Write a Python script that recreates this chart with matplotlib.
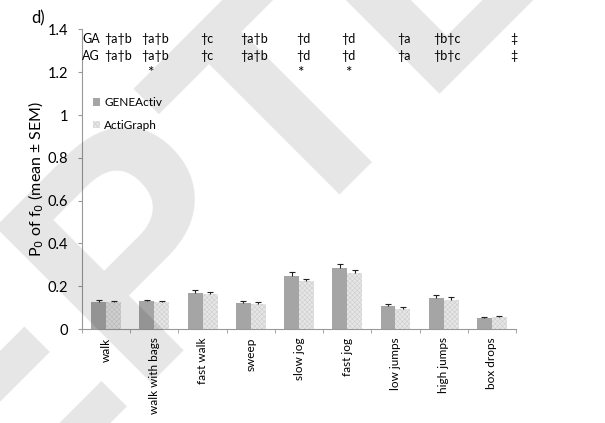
import numpy as np
import matplotlib
matplotlib.use("Agg")
import matplotlib.pyplot as plt
from matplotlib.ticker import FormatStrFormatter, FixedLocator

plt.rcParams['font.family'] = ['Lato', 'DejaVu Sans']
plt.rcParams['hatch.linewidth'] = 0.4

activities = ['walk', 'walk with bags', 'fast walk', 'sweep', 'slow jog',
              'fast jog', 'low jumps', 'high jumps', 'box drops']
ga_mean = [0.128, 0.131, 0.170, 0.120, 0.249, 0.287, 0.107, 0.143, 0.051]
ga_sem = [0.006, 0.007, 0.011, 0.009, 0.017, 0.015, 0.010, 0.016, 0.005]
ag_mean = [0.128, 0.125, 0.165, 0.117, 0.224, 0.260, 0.093, 0.137, 0.055]
ag_sem = [0.005, 0.006, 0.008, 0.008, 0.009, 0.016, 0.010, 0.014, 0.004]

# significance markers above each activity
sig_pos = [0.25, 1.01, 2.09, 3.07, 4.08, 5.02, 6.18, 7.07, 8.46]
sig_ga = ['†a†b', '†a†b', '†c', '†a†b', '†d', '†d', '†a', '†b†c', '‡']
sig_ag = ['†a†b', '†a†b', '†c', '†a†b', '†d', '†d', '†a', '†b†c', '‡']
star_pos = [0.91, 4.03, 5.02]

fig = plt.figure(figsize=(6.05, 4.23), dpi=100)
ax = fig.add_axes([0.1355, 0.222, 0.7175, 0.7085])

x = np.arange(len(activities))
w = 0.31


def sem_bars(xs, mean, sem):
    # upper half of the error bar only, with a short cap on top
    top = np.array(mean) + np.array(sem)
    ax.vlines(xs, mean, top, color='#222222', lw=0.8, zorder=3)
    ax.scatter(xs, top, marker='_', s=14, color='#222222', lw=0.8, zorder=3)


ax.bar(x - w / 2, ga_mean, w, color='#a5a5a5', linewidth=0, label='GENEActiv')
ax.bar(x + w / 2, ag_mean, w, color='#e6e6e6', edgecolor='#cdcdcd',
       hatch='xxxxxxx', linewidth=0, label='ActiGraph')
sem_bars(x - w / 2, ga_mean, ga_sem)
sem_bars(x + w / 2, ag_mean, ag_sem)

ax.set_xlim(-0.5, 8.5)
ax.set_ylim(0, 1.4)
ax.set_yticks(np.arange(0, 1.41, 0.2))
ax.yaxis.set_major_formatter(FormatStrFormatter('%g'))
ax.set_xticks(x)
ax.set_xticklabels(activities, rotation=90, fontsize=8.5)
ax.xaxis.set_minor_locator(FixedLocator(np.arange(-0.5, 9, 1)))
ax.tick_params(axis='x', which='major', length=0, pad=6)
ax.tick_params(axis='x', which='minor', length=3, color='#999999')
ax.tick_params(axis='y', length=3, color='#999999', labelsize=10.5, pad=7)

for side in ['top', 'right']:
    ax.spines[side].set_visible(False)
for side in ['left', 'bottom']:
    ax.spines[side].set_color('#999999')
    ax.spines[side].set_linewidth(0.8)

ax.set_ylabel('P$_0$ of f$_0$ (mean ± SEM)', fontsize=11.5)
ax.yaxis.set_label_coords(-0.083, 0.5)

ax.text(-0.5, 1.355, 'GA', fontsize=9, va='center', ha='left')
ax.text(-0.5, 1.275, 'AG', fontsize=9, va='center', ha='left')
for p, g, a in zip(sig_pos, sig_ga, sig_ag):
    ax.text(p, 1.355, g, fontsize=9, va='center', ha='center')
    ax.text(p, 1.275, a, fontsize=9, va='center', ha='center')
for p in star_pos:
    ax.text(p, 1.195, '*', fontsize=11, va='center', ha='center')

ax.legend(loc='upper left', bbox_to_anchor=(0.0, 0.81), frameon=False,
          fontsize=8.5, handlelength=0.6, handleheight=0.6, handletextpad=0.4,
          labelspacing=1.0)

fig.text(0.052, 0.957, 'd)', fontsize=12, va='center', ha='left')

# diagonal watermark laid over the whole panel
fig.text(-0.836, -1.44, 'ACCEPTED', fontsize=230, fontweight='bold',
         family='Liberation Sans', color='black', alpha=0.1, rotation=45,
         rotation_mode='anchor', ha='left', va='baseline', zorder=10)

fig.savefig('out.png', dpi=100)
